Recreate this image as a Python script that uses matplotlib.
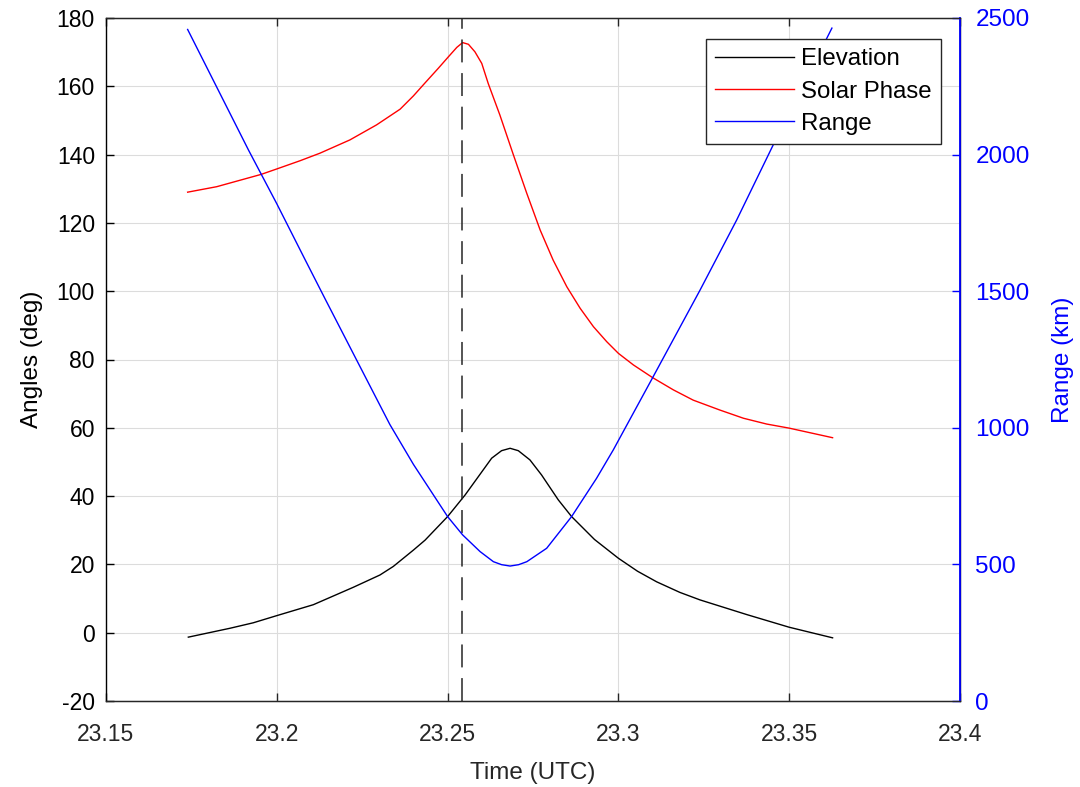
import matplotlib
matplotlib.use('Agg')
import matplotlib.pyplot as plt
from matplotlib.lines import Line2D

plt.rcParams['font.family'] = ['Liberation Sans', 'DejaVu Sans']
plt.rcParams['axes.unicode_minus'] = False

# Elevation (deg) vs time (UTC hours)
elev_t = [23.1741, 23.1863, 23.1931, 23.2000, 23.2107, 23.2224, 23.2302, 23.2341,
          23.2400, 23.2434, 23.2500, 23.2551, 23.2590, 23.2629, 23.2658, 23.2683,
          23.2707, 23.2741, 23.2775, 23.2824, 23.2863, 23.2930, 23.3000, 23.3056,
          23.3112, 23.3180, 23.3239, 23.3376, 23.3500, 23.3627]
elev = [-1.3, 1.3, 2.9, 5.0, 8.2, 13.3, 16.9, 19.4,
        24.2, 27.1, 34.0, 40.3, 45.7, 51.1, 53.3, 54.0,
        53.3, 50.6, 46.2, 38.9, 34.0, 27.3, 21.8, 18.0,
        14.9, 11.8, 9.6, 5.3, 1.6, -1.5]

# Solar phase angle (deg)
phase_t = [23.1739, 23.1824, 23.1954, 23.2000, 23.2068, 23.2126, 23.2214, 23.2292,
           23.2361, 23.2400, 23.2434, 23.2473, 23.2502, 23.2527, 23.2544, 23.2561,
           23.2580, 23.2600, 23.2619, 23.2653, 23.2692, 23.2732, 23.2771, 23.2809,
           23.2849, 23.2888, 23.2927, 23.2966, 23.3000, 23.3044, 23.3100, 23.3161,
           23.3219, 23.3297, 23.3366, 23.3434, 23.3500, 23.3627]
phase = [129.0, 130.6, 134.2, 135.8, 138.2, 140.4, 144.3, 148.7,
         153.3, 157.2, 161.0, 165.3, 168.6, 171.4, 172.8, 172.3,
         170.1, 166.7, 160.8, 151.6, 140.1, 128.6, 117.9, 109.1,
         101.3, 95.0, 89.6, 85.2, 81.8, 78.4, 74.7, 71.1,
         68.1, 65.2, 62.8, 61.1, 59.9, 57.1]

# Slant range (km)
range_t = [23.1739, 23.1917, 23.2000, 23.2083, 23.2143, 23.2237, 23.2331, 23.2400,
           23.2500, 23.2544, 23.2595, 23.2634, 23.2658, 23.2683, 23.2708, 23.2732,
           23.2790, 23.2863, 23.2936, 23.2985, 23.3100, 23.3239, 23.3346, 23.3453,
           23.3625]
rng = [2458, 2017, 1820, 1615, 1468, 1240, 1012, 866,
       675, 608, 547, 510, 499, 494, 499, 510,
       559, 675, 815, 919, 1183, 1504, 1760, 2035,
       2463]

t_mark = 23.2542

fig = plt.figure(figsize=(10.8, 7.87), dpi=100)
ax1 = fig.add_axes([106/1080, 86/787, 854/1080, 683/787])
ax2 = ax1.twinx()

ax1.plot(phase_t, phase, color='red', lw=1.0)
ax1.plot(elev_t, elev, color='black', lw=1.0)
ax1.axvline(t_mark, color='#262626', lw=1.1, linestyle=(0, (15, 7)))
ax2.plot(range_t, rng, color='blue', lw=1.0)

ax1.set_xlim(23.15, 23.4)
ax1.set_ylim(-20, 180)
ax2.set_ylim(0, 2500)
ax1.set_xticks([23.15, 23.2, 23.25, 23.3, 23.35, 23.4])
ax1.set_xticklabels(['23.15', '23.2', '23.25', '23.3', '23.35', '23.4'])
ax1.set_yticks(range(-20, 181, 20))
ax2.set_yticks(range(0, 2501, 500))

ax1.grid(True, color='#dcdcdc', lw=0.8)
ax1.set_axisbelow(True)

dark = '#262626'
ax1.tick_params(axis='x', direction='in', length=6, width=1.0, colors=dark,
                labelsize=16.5, top=True, pad=16)
ax1.tick_params(axis='y', direction='in', length=6, width=1.0, colors='black',
                labelsize=16.5, pad=8)
ax2.tick_params(axis='y', direction='in', length=6, width=1.0, colors='blue',
                labelsize=17.5, pad=11)

for s in ['top', 'bottom']:
    ax1.spines[s].set_color(dark)
    ax2.spines[s].set_color(dark)
ax1.spines['left'].set_color('black')
ax2.spines['right'].set_color('blue')
ax2.spines['left'].set_visible(False)
for sp in ax1.spines.values():
    sp.set_linewidth(1.0)
ax2.spines['right'].set_linewidth(1.3)

ax1.set_xlabel('Time (UTC)', fontsize=17.5, color=dark, labelpad=11)
ax1.set_ylabel('Angles (deg)', fontsize=17.5, color='black', labelpad=10)
ax2.set_ylabel('Range (km)', fontsize=17.5, color='blue', labelpad=16)

handles = [Line2D([], [], color='black', lw=1.0),
           Line2D([], [], color='red', lw=1.0),
           Line2D([], [], color='blue', lw=1.0)]
leg = ax2.legend(handles, ['Elevation', 'Solar Phase', 'Range'],
                 loc='upper right', bbox_to_anchor=(0.9774, 0.9688),
                 borderaxespad=0, fontsize=17.3, frameon=True, fancybox=False,
                 framealpha=1, edgecolor=dark, handlelength=3.3,
                 handletextpad=0.28, labelspacing=0.42, borderpad=0.38)
leg.get_frame().set_linewidth(1.0)

fig.savefig('out.png', dpi=100)
